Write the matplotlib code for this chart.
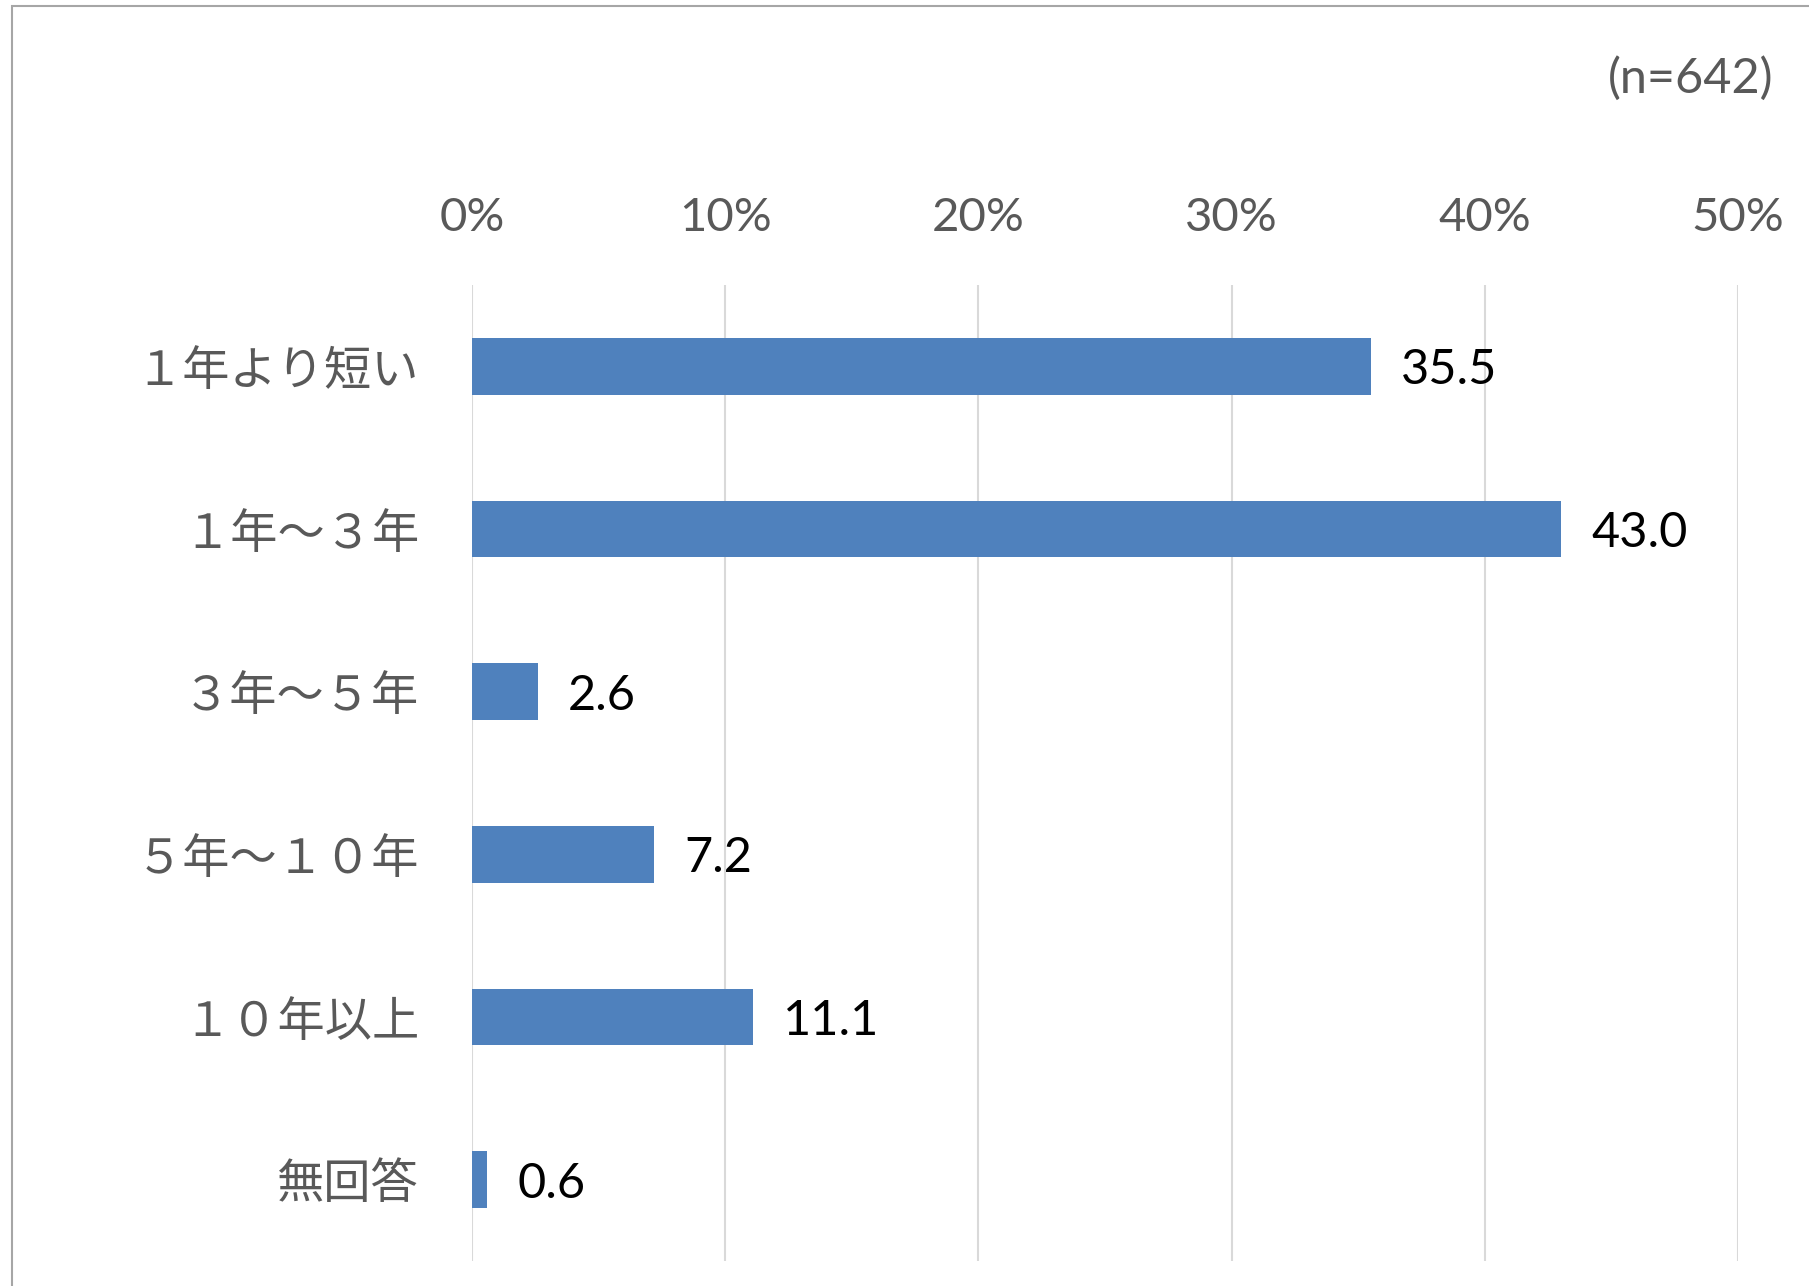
import matplotlib
matplotlib.use('Agg')
import matplotlib.pyplot as plt
from matplotlib.patches import Rectangle
import numpy as np

# data
categories = ['１年より短い', '１年～３年', '３年～５年', '５年～１０年', '１０年以上', '無回答']
values = [35.5, 43.0, 2.6, 7.2, 11.1, 0.6]
xticks = [0, 10, 20, 30, 40, 50]
xtick_labels = ['0%', '10%', '20%', '30%', '40%', '50%']
note = '(n=642)'

W, H = 1809, 1286
fig = plt.figure(figsize=(W / 100, H / 100), dpi=100)
fig.patch.set_facecolor('white')

# outer frame
fig.patches.append(Rectangle((12 / W, -0.05), 1.1, 1 - 6 / H + 0.05,
                             transform=fig.transFigure, fill=False,
                             edgecolor='#A6A6A6', linewidth=1.5))

ax = fig.add_axes([472 / W, 25 / H, (1738 - 472) / W, (1261 - 285) / H])

y = np.arange(len(categories))
ax.barh(y, values, height=0.35, color='#4F81BD')

ax.set_xlim(0, 50)
ax.set_ylim(len(categories) - 0.5, -0.5)

ax.set_xticks(xticks)
ax.set_xticklabels(xtick_labels, fontsize=34, color='#595959', family=['Lato', 'DejaVu Sans'])
ax.xaxis.tick_top()
ax.tick_params(axis='x', length=0, pad=33)

ax.set_yticks(y)
ax.set_yticklabels(categories, fontsize=34, color='#595959',
                   family=['Noto Sans CJK JP', 'DejaVu Sans'])
ax.tick_params(axis='y', length=0, pad=38)

ax.grid(axis='x', color='#D9D9D9', linewidth=1.5)
ax.set_axisbelow(True)
for s in ax.spines.values():
    s.set_visible(False)

for yi, v in zip(y, values):
    ax.text(v + 1.2, yi, f'{v:.1f}', va='center_baseline', ha='left', fontsize=35,
            color='black', family=['Lato', 'DejaVu Sans'])

fig.text(1773 / W, 1 - 78 / H, note, ha='right', va='center', fontsize=35,
         color='#595959', family=['Lato', 'DejaVu Sans'])

fig.savefig('out.png', dpi=100)
